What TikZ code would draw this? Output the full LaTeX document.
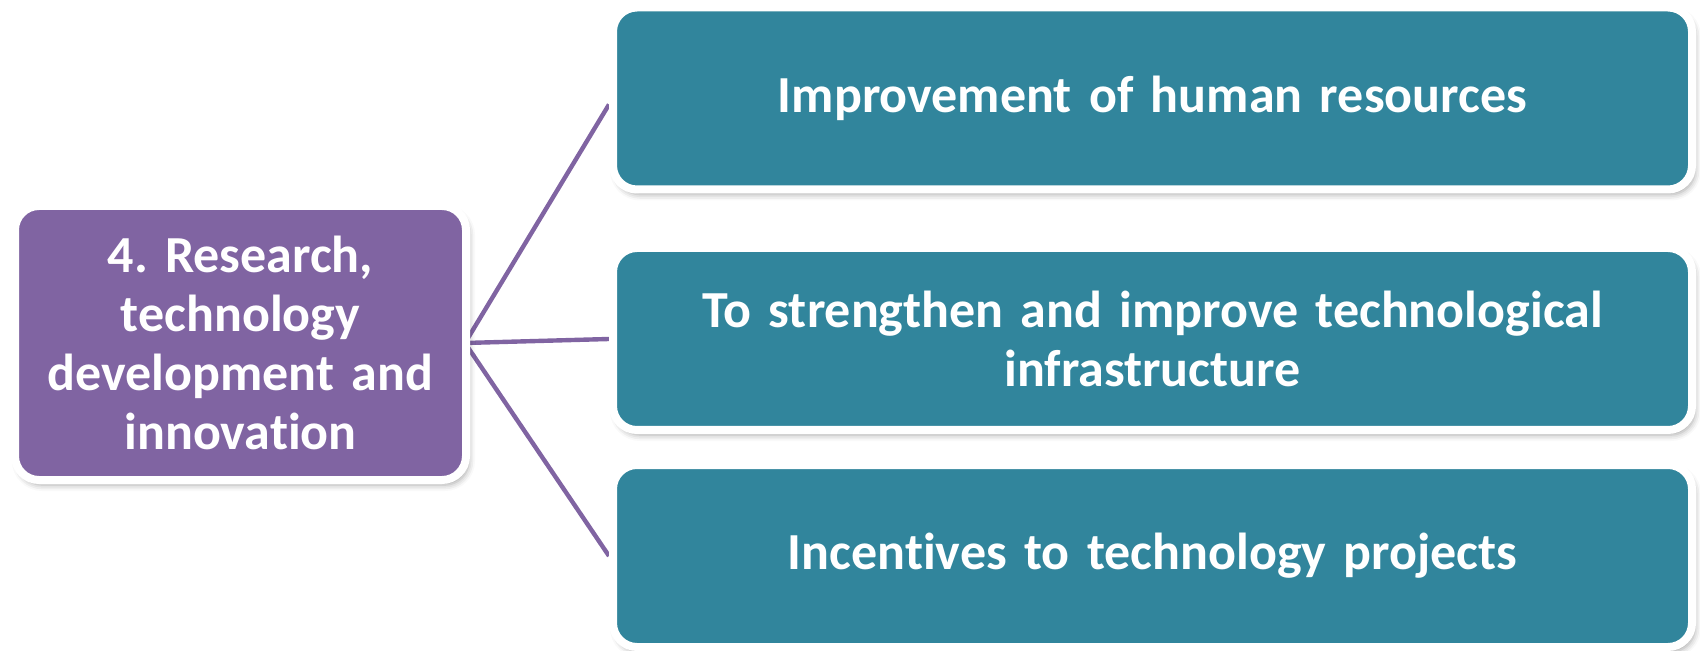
\documentclass[tikz,border=0pt]{standalone}
\usepackage{fontspec}
\setmainfont{Carlito}[Ligatures={NoCommon}]
\usetikzlibrary{shadows.blur,backgrounds}
\definecolor{boxpurple}{HTML}{8064A2}
\definecolor{boxteal}{HTML}{31859C}
\tikzset{
  basebox/.style={rounded corners=12pt, draw=white, line width=4pt, text=white,
    font=\frenchspacing\bfseries\fontsize{26}{29.5}\selectfont, align=center, inner sep=0pt,
    blur shadow={shadow xshift=1.5pt, shadow yshift=-2.5pt, shadow blur radius=3pt, shadow opacity=35}},
  mainbox/.style={basebox, fill=boxpurple, minimum width=225.5pt, minimum height=137pt, text width=215pt},
  itembox/.style={basebox, fill=boxteal, minimum width=539.5pt, minimum height=91pt, text width=520pt},
  link/.style={draw=boxpurple, line width=2.2pt}
}
\begin{document}
\begin{tikzpicture}[x=0.5pt,y=-0.5pt]
\useasboundingbox (0,0) rectangle (1700,651);
\node[mainbox] (main) at (240.5,343) {4. Research,\\technology\\development and\\innovation};
\node[itembox] (b1) at (1152.5,98.5) {Improvement of human resources};
\node[itembox] (b2) at (1152.5,339) {To strengthen and improve technological\\infrastructure};
\node[itembox] (b3) at (1152.5,556) {Incentives to technology projects};
\coordinate (hub) at ([xshift=-2.5pt]main.east);
\begin{scope}[on background layer]
\draw[link] (hub) -- ([yshift=-3pt]b1.west);
\draw[link] (hub) -- (b2.west);
\draw[link] (hub) -- (b3.west);
\end{scope}
\end{tikzpicture}
\end{document}
